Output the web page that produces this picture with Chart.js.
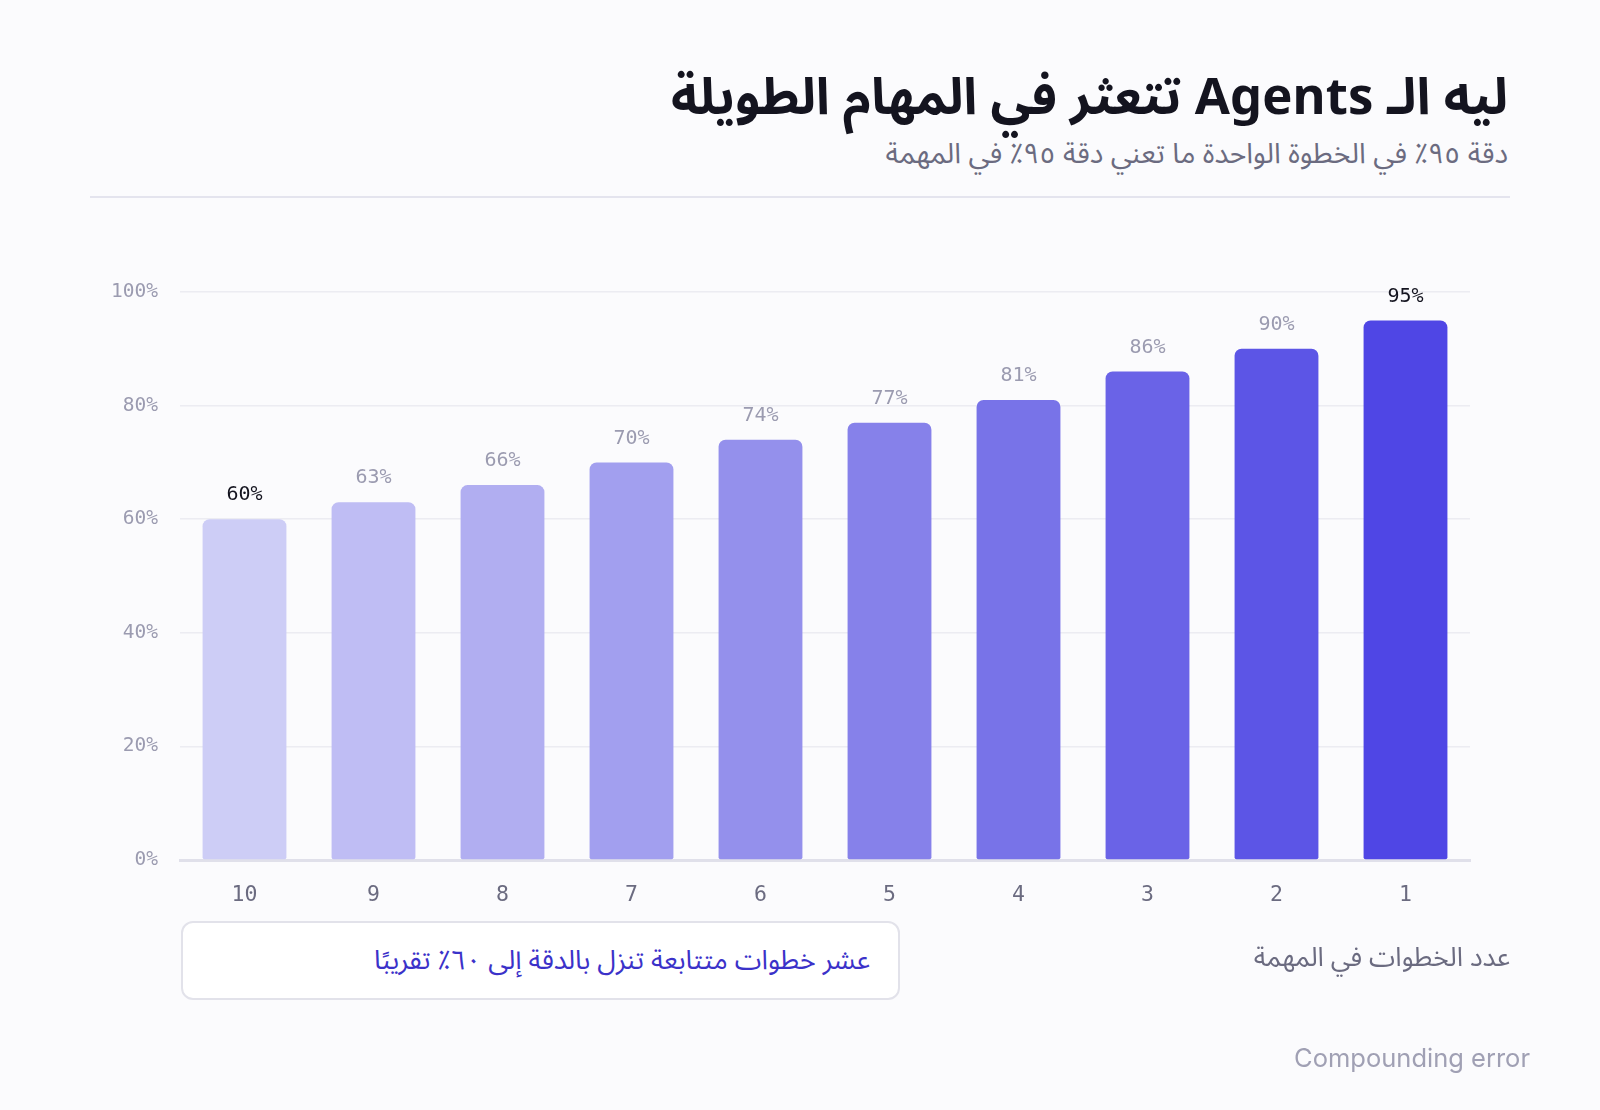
<!DOCTYPE html>
<html lang="ar">
<head>
<meta charset="utf-8">
<script src="https://cdn.jsdelivr.net/npm/chart.js@4"></script>
<style>
  html, body { margin: 0; padding: 0; background: #fbfbfd; }
  body { width: 1600px; height: 1110px; position: relative; overflow: hidden;
         font-family: "Noto Sans Arabic", "DejaVu Sans", sans-serif; }
  #chart { position: absolute; left: 0; top: 0; }
  .title { position: absolute; right: 92px; top: 44px; font-size: 51px; font-weight: bold;
           color: #14141f; direction: rtl; margin: 0; }
  .subtitle { position: absolute; right: 92px; top: 124px; font-size: 28.5px; color: #6b6b80; direction: rtl; }
  .rule { position: absolute; left: 90px; width: 1420px; top: 196px; height: 2px; background: #e4e4ee; }
  .note { position: absolute; left: 181px; top: 921px; width: 719px; height: 79px; box-sizing: border-box;
          border: 2px solid #e2e2ea; border-radius: 12px; background: #fff; direction: rtl;
          padding-right: 28px; line-height: 75px; font-size: 27px; color: #3b32c9; }
  .xtitle { position: absolute; right: 90px; top: 930px; font-size: 26.5px; color: #6b6b80; direction: rtl; }
  .footer { position: absolute; right: 70px; top: 1042px; font-size: 25.5px; color: #a0a0b4;
            font-family: "Inter", "Noto Sans", sans-serif; }
</style>
</head>
<body>
<div class="title">ليه الـ Agents تتعثر في المهام الطويلة</div>
<div class="subtitle">دقة ٩٥٪ في الخطوة الواحدة ما تعني دقة ٩٥٪ في المهمة</div>
<div class="rule"></div>
<canvas id="chart" width="1600" height="1110"></canvas>
<div class="note">عشر خطوات متتابعة تنزل بالدقة إلى ٦٠٪ تقريبًا</div>
<div class="xtitle">عدد الخطوات في المهمة</div>
<div class="footer">Compounding error</div>
<script>
// steps in the task, left to right
const steps = ['10', '9', '8', '7', '6', '5', '4', '3', '2', '1'];
// accuracy for the whole task (%)
const accuracy = [60, 63, 66, 70, 74, 77, 81, 86, 90, 95];
const barColors = ['#cdcdf6', '#bfbdf4', '#b1aef1', '#a29fef', '#9490ec', '#8681ea', '#7873e8', '#6a63e7', '#5c55e6', '#4f46e5'];
const yTicks = [0, 20, 40, 60, 80, 100];

// labels over each bar
const valueLabels = {
  id: 'valueLabels',
  afterDatasetsDraw(chart) {
    const ctx = chart.ctx;
    const meta = chart.getDatasetMeta(0);
    ctx.save();
    ctx.font = '20px "DejaVu Sans Mono", monospace';
    ctx.textAlign = 'center';
    ctx.textBaseline = 'bottom';
    meta.data.forEach((bar, i) => {
      const last = i === 0 || i === accuracy.length - 1;
      ctx.fillStyle = last ? '#14141f' : '#9b9bb0';
      ctx.fillText(accuracy[i] + '%', bar.x, bar.y - 14);
    });
    ctx.restore();
  }
};

new Chart(document.getElementById('chart'), {
  type: 'bar',
  data: {
    labels: steps,
    datasets: [{
      data: accuracy,
      backgroundColor: barColors,
      borderRadius: { topLeft: 7, topRight: 7, bottomLeft: 2, bottomRight: 2 },
      borderSkipped: false,
      barPercentage: 0.65,
      categoryPercentage: 1
    }]
  },
  options: {
    responsive: false,
    animation: false,
    layout: { padding: { left: 92, right: 130, top: 292, bottom: 198 } },
    plugins: { legend: { display: false }, tooltip: { enabled: false } },
    scales: {
      x: {
        afterFit: s => { s.height = 52; },
        grid: { display: false },
        border: { color: '#e0e0ea', width: 3 },
        ticks: { color: '#6b6b80', font: { family: 'DejaVu Sans Mono', size: 21.5 }, padding: 15 }
      },
      y: {
        min: 0, max: 100,
        afterFit: s => { s.width = 88; },
        afterBuildTicks: s => { s.ticks = yTicks.map(v => ({ value: v })); },
        grid: { color: '#ececf2', lineWidth: 1.5, drawTicks: false },
        border: { display: false },
        ticks: { color: '#9b9bb0', font: { family: 'DejaVu Sans Mono', size: 19.5 }, padding: 22,
                 callback: v => v + '%' }
      }
    }
  },
  plugins: [valueLabels]
});
</script>
</body>
</html>
